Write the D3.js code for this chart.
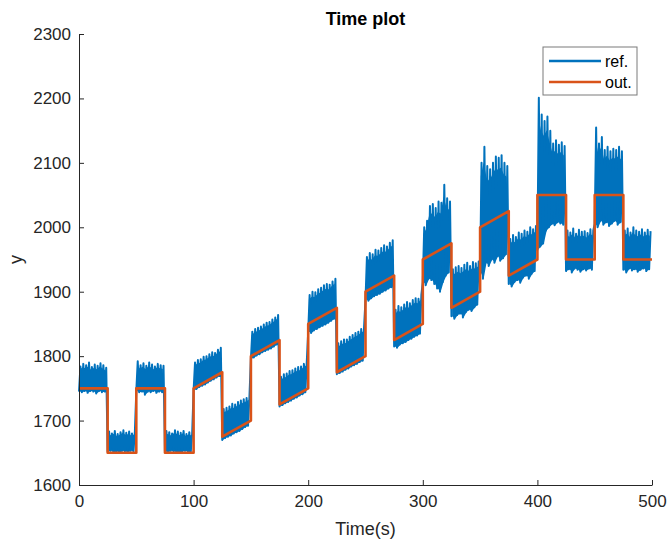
<!DOCTYPE html>
<html>
<head>
<meta charset="utf-8">
<script src="https://cdn.jsdelivr.net/npm/d3@7"></script>
<style>
  body { margin: 0; background: #fff; }
  text { font-family: 'Liberation Sans', Arial, Helvetica, sans-serif; }
</style>
</head>
<body>
<script>
// Define data
let xTicks = [0, 100, 200, 300, 400, 500];
let yTicks = [1600, 1700, 1800, 1900, 2000, 2100, 2200, 2300];
let seriesNames = ['ref.', 'out.'];

// out. : value at start and end of each 25 s step
let segDur = 25;
let outStart = [1750, 1650, 1750, 1650, 1750, 1675, 1800, 1725, 1850, 1775,
                1900, 1825, 1950, 1875, 2000, 1925, 2050, 1950, 2050, 1950];
let outEnd   = [1750, 1650, 1750, 1650, 1775, 1700, 1825, 1750, 1875, 1800,
                1925, 1850, 1975, 1900, 2025, 1950, 2050, 1950, 2050, 1950];

// ref. : noisy signal, upper and lower swing every 2.5 s
let refStep = 2.5;
let refHi = [
  1784,1788,1786,1790,1783,1787,1785,1789,1786,1782,
  1683,1680,1684,1679,1682,1685,1681,1683,1680,1682,
  1792,1786,1789,1785,1790,1787,1784,1788,1786,1785,
  1684,1682,1680,1685,1683,1681,1684,1679,1682,1680,
  1790,1794,1795,1799,1800,1803,1806,1805,1810,1813,
  1718,1720,1722,1726,1725,1729,1731,1733,1735,1738,
  1838,1842,1844,1846,1849,1852,1853,1857,1860,1864,
  1768,1772,1773,1777,1778,1781,1783,1784,1788,1791,
  1895,1900,1899,1904,1906,1910,1912,1911,1916,1920,
  1820,1823,1826,1826,1830,1833,1836,1838,1842,1845,
  1954,1960,1958,1965,1964,1968,1972,1970,1976,1980,
  1872,1878,1876,1880,1884,1882,1887,1890,1889,1895,
  2000,2010,2033,2036,2030,2040,2038,2066,2045,2040,
  1935,1938,1940,1937,1942,1945,1940,1946,1944,1947,
  2100,2125,2095,2090,2100,2110,2108,2112,2100,2095,
  1982,1988,1985,1992,1990,1995,1993,2000,1997,2002,
  2201,2175,2165,2172,2150,2130,2135,2128,2132,2126,
  1995,1992,1998,1990,1996,1993,1994,1991,1997,1995,
  2155,2130,2140,2120,2125,2118,2122,2120,2125,2118,
  1995,1998,1992,2000,1995,1993,1997,1992,1996,1994
];
let refLo = [
  1745,1744,1746,1743,1746,1745,1742,1746,1744,1745,
  1652,1653,1651,1652,1650,1653,1652,1651,1653,1652,
  1746,1744,1745,1740,1745,1744,1746,1743,1745,1744,
  1652,1651,1653,1652,1651,1650,1652,1653,1651,1652,
  1747,1749,1752,1754,1756,1759,1762,1764,1767,1769,
  1670,1673,1675,1677,1680,1682,1684,1687,1690,1692,
  1796,1798,1801,1803,1806,1808,1810,1812,1815,1818,
  1722,1724,1727,1729,1731,1734,1736,1739,1741,1744,
  1838,1836,1840,1842,1845,1847,1849,1852,1855,1858,
  1772,1774,1776,1779,1781,1784,1786,1788,1791,1793,
  1888,1886,1890,1893,1895,1897,1900,1902,1905,1907,
  1815,1813,1818,1820,1822,1825,1827,1830,1832,1835,
  1915,1910,1920,1918,1912,1905,1900,1915,1925,1930,
  1862,1858,1864,1866,1860,1868,1872,1870,1876,1880,
  1930,1920,1945,1940,1950,1945,1955,1948,1952,1958,
  1912,1908,1915,1918,1914,1922,1925,1920,1928,1932,
  1965,1970,1975,1995,2000,2005,2003,2008,2006,2004,
  1932,1935,1930,1936,1934,1931,1935,1933,1936,1934,
  2005,2000,2010,2004,2008,2002,2006,2010,2004,2008,
  1934,1930,1936,1933,1935,1931,1934,1936,1932,1935
];

let width = 669,
    height = 546;

let margin = { top: 34, bottom: 61, left: 79, right: 17 };

let blue = '#0072BD',
    orange = '#D95319',
    ink = '#262626';

let svg = d3.select('body')
            .append('svg')
            .attr('width', width)
            .attr('height', height)
            .style('background', '#fff');

let xscale = d3.scaleLinear()
              .domain([0, 500])
              .range([margin.left, width - margin.right]);

let yscale = d3.scaleLinear()
              .domain([1600, 2300])
              .range([height - margin.bottom, margin.top]);

// build line points from the arrays
let refPts = [];
refHi.forEach((h, i) => {
  refPts.push([i * refStep, refLo[i]]);
  refPts.push([i * refStep + refStep / 2, h]);
});

let outPts = [];
outStart.forEach((s, k) => {
  outPts.push([k * segDur, s]);
  outPts.push([(k + 1) * segDur, outEnd[k]]);
});

let line = d3.line()
            .x(d => xscale(d[0]))
            .y(d => yscale(d[1]));

// solid body of the noise band, split per step so jumps stay sharp
let bands = d3.range(outStart.length).map(k =>
  d3.range(k * 10, k * 10 + 10).map(i => ({ t: i * refStep, lo: refLo[i], hi: refHi[i] }))
);

let area = d3.area()
            .x(d => xscale(d.t + refStep / 4))
            .y0(d => yscale(d.lo))
            .y1(d => yscale(d.lo + (d.hi - d.lo) * 0.88));

svg.append('g')
  .selectAll('path')
  .data(bands)
  .join('path')
  .attr('d', area)
  .attr('fill', blue);

svg.append('path')
  .datum(refPts)
  .attr('d', line)
  .attr('fill', 'none')
  .attr('stroke', blue)
  .attr('stroke-width', 2)
  .attr('stroke-linejoin', 'round');

svg.append('path')
  .datum(outPts)
  .attr('d', line)
  .attr('fill', 'none')
  .attr('stroke', orange)
  .attr('stroke-width', 2.6)
  .attr('stroke-linejoin', 'round');

// axes, MATLAB style: ticks inward, box off
let yaxis = svg.append('g')
              .attr('transform', `translate(${margin.left},0)`)
              .call(d3.axisLeft(yscale).tickValues(yTicks).tickFormat(d3.format('d'))
                      .tickSize(-5).tickSizeOuter(0).tickPadding(8));

let xaxis = svg.append('g')
              .attr('transform', `translate(0,${height - margin.bottom})`)
              .call(d3.axisBottom(xscale).tickValues(xTicks).tickFormat(d3.format('d'))
                      .tickSize(-5).tickSizeOuter(0).tickPadding(10));

[xaxis, yaxis].forEach(a => {
  a.select('.domain').attr('stroke', ink);
  a.selectAll('.tick line').attr('stroke', ink);
  a.selectAll('.tick text')
    .attr('fill', ink)
    .style('font-size', '17px')
    .style('font-family', "'Liberation Sans', Arial, sans-serif");
});

// Draw the labels
svg.append('text')
  .text('Time plot')
  .attr('x', (xscale(0) + xscale(500)) / 2)
  .attr('y', 25)
  .attr('text-anchor', 'middle')
  .attr('font-weight', 'bold')
  .attr('font-size', 18)
  .attr('fill', '#000');

svg.append('text')
  .text('Time(s)')
  .attr('x', (xscale(0) + xscale(500)) / 2)
  .attr('y', 535)
  .attr('text-anchor', 'middle')
  .attr('font-size', 18)
  .attr('fill', ink);

svg.append('text')
  .text('y')
  .attr('x', -(yscale(1600) + yscale(2300)) / 2)
  .attr('y', 22)
  .attr('text-anchor', 'middle')
  .attr('transform', 'rotate(-90)')
  .attr('font-size', 18)
  .attr('fill', ink);

// legend
let legend = svg.append('g').attr('transform', 'translate(543,47)');

legend.append('rect')
  .attr('width', 94)
  .attr('height', 48)
  .attr('fill', '#fff')
  .attr('stroke', '#7a7a7a')
  .attr('stroke-width', 1);

seriesNames.forEach((name, i) => {
  let y = 14 + i * 21;
  legend.append('line')
    .attr('x1', 6).attr('x2', 58)
    .attr('y1', y).attr('y2', y)
    .attr('stroke', i === 0 ? blue : orange)
    .attr('stroke-width', 2.5);
  legend.append('text')
    .text(name)
    .attr('x', 62)
    .attr('y', y + 6)
    .attr('font-size', 16)
    .attr('fill', '#000');
});
</script>
</body>
</html>
